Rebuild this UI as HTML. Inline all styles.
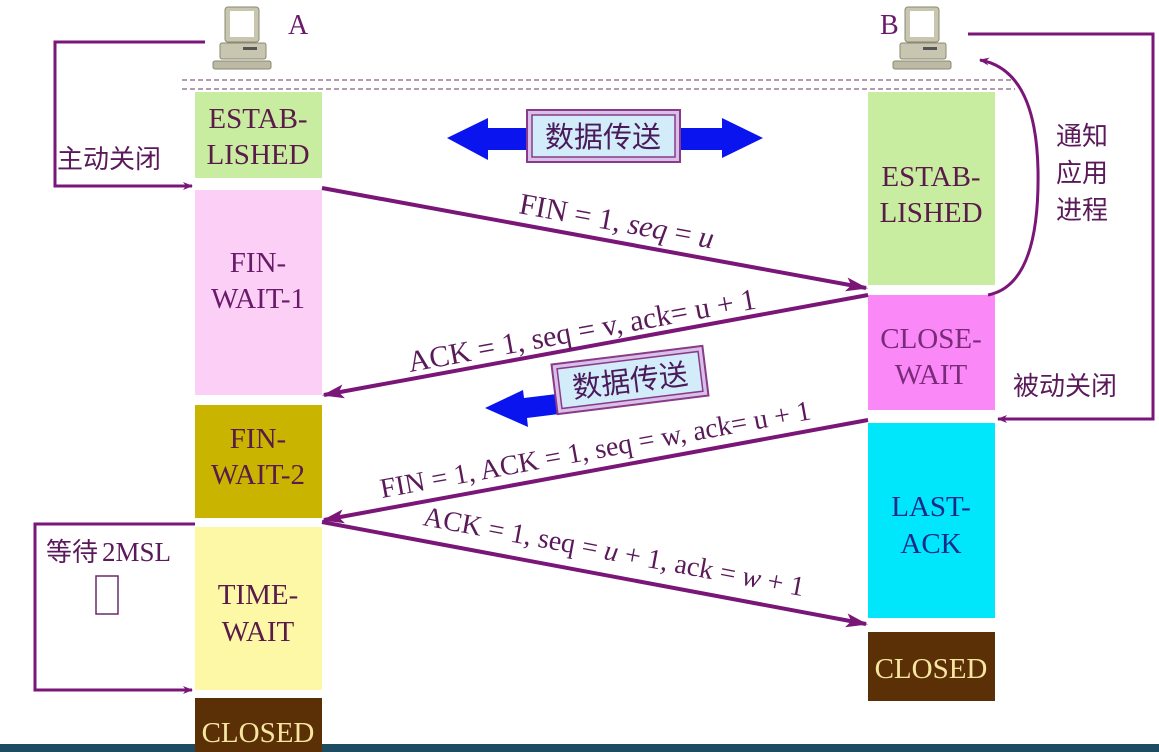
<!DOCTYPE html>
<html><head><meta charset="utf-8"><style>
html,body{margin:0;padding:0;background:#fff;}
svg{display:block;}
text{font-family:"Liberation Serif","Noto Serif CJK SC",serif;}
.cn{font-family:"Liberation Sans","Noto Sans CJK SC",sans-serif;}
</style></head><body>
<svg width="1159" height="752" viewBox="0 0 1159 752" xmlns="http://www.w3.org/2000/svg">
<defs>
<marker id="ah" markerWidth="10" markerHeight="8" refX="9" refY="4" orient="auto" markerUnits="userSpaceOnUse">
<path d="M0,0 L10,4 L0,8 L3,4 z" fill="#7a1678"/></marker>
<marker id="ahb" markerWidth="22" markerHeight="14" refX="20" refY="7" orient="auto" markerUnits="userSpaceOnUse">
<path d="M0,0 L22,7 L0,14 L5,7 z" fill="#7a1678"/></marker>
</defs>
<rect width="1159" height="752" fill="#fff"/>
<g transform="translate(205,5)">
<rect x="20" y="2" width="34" height="35" rx="3" fill="#c8c6b0" stroke="#8a8870"/>
<rect x="25" y="6" width="24" height="26" fill="#fff"/>
<rect x="15" y="38" width="46" height="16" rx="2" fill="#c8c6b0" stroke="#8a8870"/>
<rect x="38" y="42" width="14" height="3" fill="#555"/>
<rect x="8" y="56" width="58" height="8" rx="2" fill="#bcbaa4" stroke="#8a8870"/>
</g>
<text x="288" y="34" font-size="28" fill="#6a1a6a">A</text>
<g transform="translate(885,5)">
<rect x="20" y="2" width="34" height="35" rx="3" fill="#c8c6b0" stroke="#8a8870"/>
<rect x="25" y="6" width="24" height="26" fill="#fff"/>
<rect x="15" y="38" width="46" height="16" rx="2" fill="#c8c6b0" stroke="#8a8870"/>
<rect x="38" y="42" width="14" height="3" fill="#555"/>
<rect x="8" y="56" width="58" height="8" rx="2" fill="#bcbaa4" stroke="#8a8870"/>
</g>
<text x="880" y="34" font-size="28" fill="#6a1a6a">B</text>
<line x1="182" y1="80" x2="1015" y2="80" stroke="#9a7a9a" stroke-width="1.5" stroke-dasharray="5,3"/>
<line x1="182" y1="89" x2="1015" y2="89" stroke="#9a7a9a" stroke-width="1.5" stroke-dasharray="5,3"/>
<rect x="195" y="92" width="127" height="86" fill="#c8eda0"/>
<rect x="195" y="190" width="127" height="205" fill="#fcd0f6"/>
<rect x="195" y="405" width="127" height="113" fill="#c9b500"/>
<rect x="195" y="527" width="127" height="163" fill="#fcf8a6"/>
<rect x="195" y="698" width="127" height="54" fill="#5c3006"/>
<g font-size="29" fill="#5a1a4a" text-anchor="middle">
<text x="258" y="128">ESTAB-</text><text x="258" y="164">LISHED</text>
<text x="258" y="272" fill="#6a1a6a">FIN-</text><text x="258" y="308" fill="#6a1a6a">WAIT-1</text>
<text x="258" y="448">FIN-</text><text x="258" y="484">WAIT-2</text>
<text x="258" y="604">TIME-</text><text x="258" y="641">WAIT</text>
<text x="258" y="742" fill="#f6e6a0">CLOSED</text>
</g>
<rect x="868" y="92" width="127" height="193" fill="#c8eda0"/>
<rect x="868" y="295" width="127" height="115" fill="#fa88f6"/>
<rect x="868" y="423" width="127" height="195" fill="#00e6fa"/>
<rect x="868" y="632" width="127" height="69" fill="#5c3006"/>
<g font-size="29" fill="#5a1a4a" text-anchor="middle">
<text x="931" y="186">ESTAB-</text><text x="931" y="222">LISHED</text>
<text x="931" y="348" fill="#7a2a7a">CLOSE-</text><text x="931" y="384" fill="#7a2a7a">WAIT</text>
<text x="931" y="516" fill="#1a2a8a">LAST-</text><text x="931" y="553" fill="#1a2a8a">ACK</text>
<text x="931" y="678" fill="#f6e6a0">CLOSED</text>
</g>
<g fill="none" stroke="#7a1678" stroke-width="3">
<polyline points="205,42 55,42 55,186 192,186" marker-end="url(#ah)"/>
<polyline points="195,524 35,524 35,690 192,690" marker-end="url(#ah)"/>
<polyline points="968,34 1153,34 1153,419 998,419" marker-end="url(#ah)"/>
<path d="M988,295 Q1040,285 1038,170 Q1036,70 980,60" marker-end="url(#ah)"/>
</g>
<g font-size="26" fill="#5a1a5a">
<text x="57" y="168" class="cn">主动关闭</text>
<text x="1056" y="145" class="cn">通知</text>
<text x="1056" y="182" class="cn">应用</text>
<text x="1056" y="219" class="cn">进程</text>
<text x="1013" y="395" class="cn">被动关闭</text>
<text x="46" y="561" class="cn">等待</text>
</g>
<text x="102" y="561" font-size="27" fill="#5a1a5a">2MSL</text>
<rect x="96" y="576" width="22" height="38" fill="#fff" stroke="#6a2a6a" stroke-width="1.5"/>
<g stroke="#7a1678" stroke-width="4" fill="none">
<line x1="322" y1="188" x2="866" y2="288" marker-end="url(#ahb)"/>
<line x1="868" y1="295" x2="324" y2="395" marker-end="url(#ahb)"/>
<line x1="868" y1="420" x2="324" y2="520" marker-end="url(#ahb)"/>
<line x1="322" y1="522" x2="866" y2="624" marker-end="url(#ahb)"/>
</g>
<g font-size="30" fill="#5a1a5a">
<text transform="translate(518,213) rotate(10.4)">FIN = 1, <tspan font-style="italic">seq</tspan> = <tspan font-style="italic">u</tspan></text>
<text transform="translate(410,372) rotate(-10.4)">ACK = 1, seq = v, ack= u + 1</text>
<text transform="translate(382,498) rotate(-10.4)" font-size="28">FIN = 1, ACK = 1, seq = w, ack= u + 1</text>
<text transform="translate(422,525) rotate(10.6)" font-size="28">ACK = 1, seq = <tspan font-style="italic">u</tspan> + 1, ack = <tspan font-style="italic">w</tspan> + 1</text>
</g>
<polygon points="447,138 488,118 488,128 530,128 530,150 488,150 488,160" fill="#0a14ee"/>
<polygon points="676,128 722,128 722,118 763,138 722,158 722,150 676,150" fill="#0a14ee"/>
<rect x="527" y="110" width="153" height="52" fill="#d8c0e8" stroke="#8a3a8a" stroke-width="2"/>
<rect x="532" y="115" width="143" height="42" fill="#d2ecfa" stroke="#8a3a8a" stroke-width="1.5"/>
<text x="603" y="147" text-anchor="middle" font-size="29" fill="#4a1a5a" class="cn">数据传送</text>
<polygon points="485,408 523,390 524,398 565,393 567,413 527,418 528,427" fill="#0a14ee"/>
<g transform="translate(630,380) rotate(-7)">
<rect x="-76" y="-25" width="152" height="50" fill="#d8c0e8" stroke="#8a3a8a" stroke-width="2"/>
<rect x="-71" y="-20" width="142" height="40" fill="#d2ecfa" stroke="#8a3a8a" stroke-width="1.5"/>
<text x="0" y="11" text-anchor="middle" font-size="29" fill="#4a1a5a" class="cn">数据传送</text>
</g>
<rect x="0" y="744" width="1159" height="8" fill="#1e4a62"/>
<rect x="195" y="744" width="127" height="8" fill="#5c3006"/>
</svg>
</body></html>
